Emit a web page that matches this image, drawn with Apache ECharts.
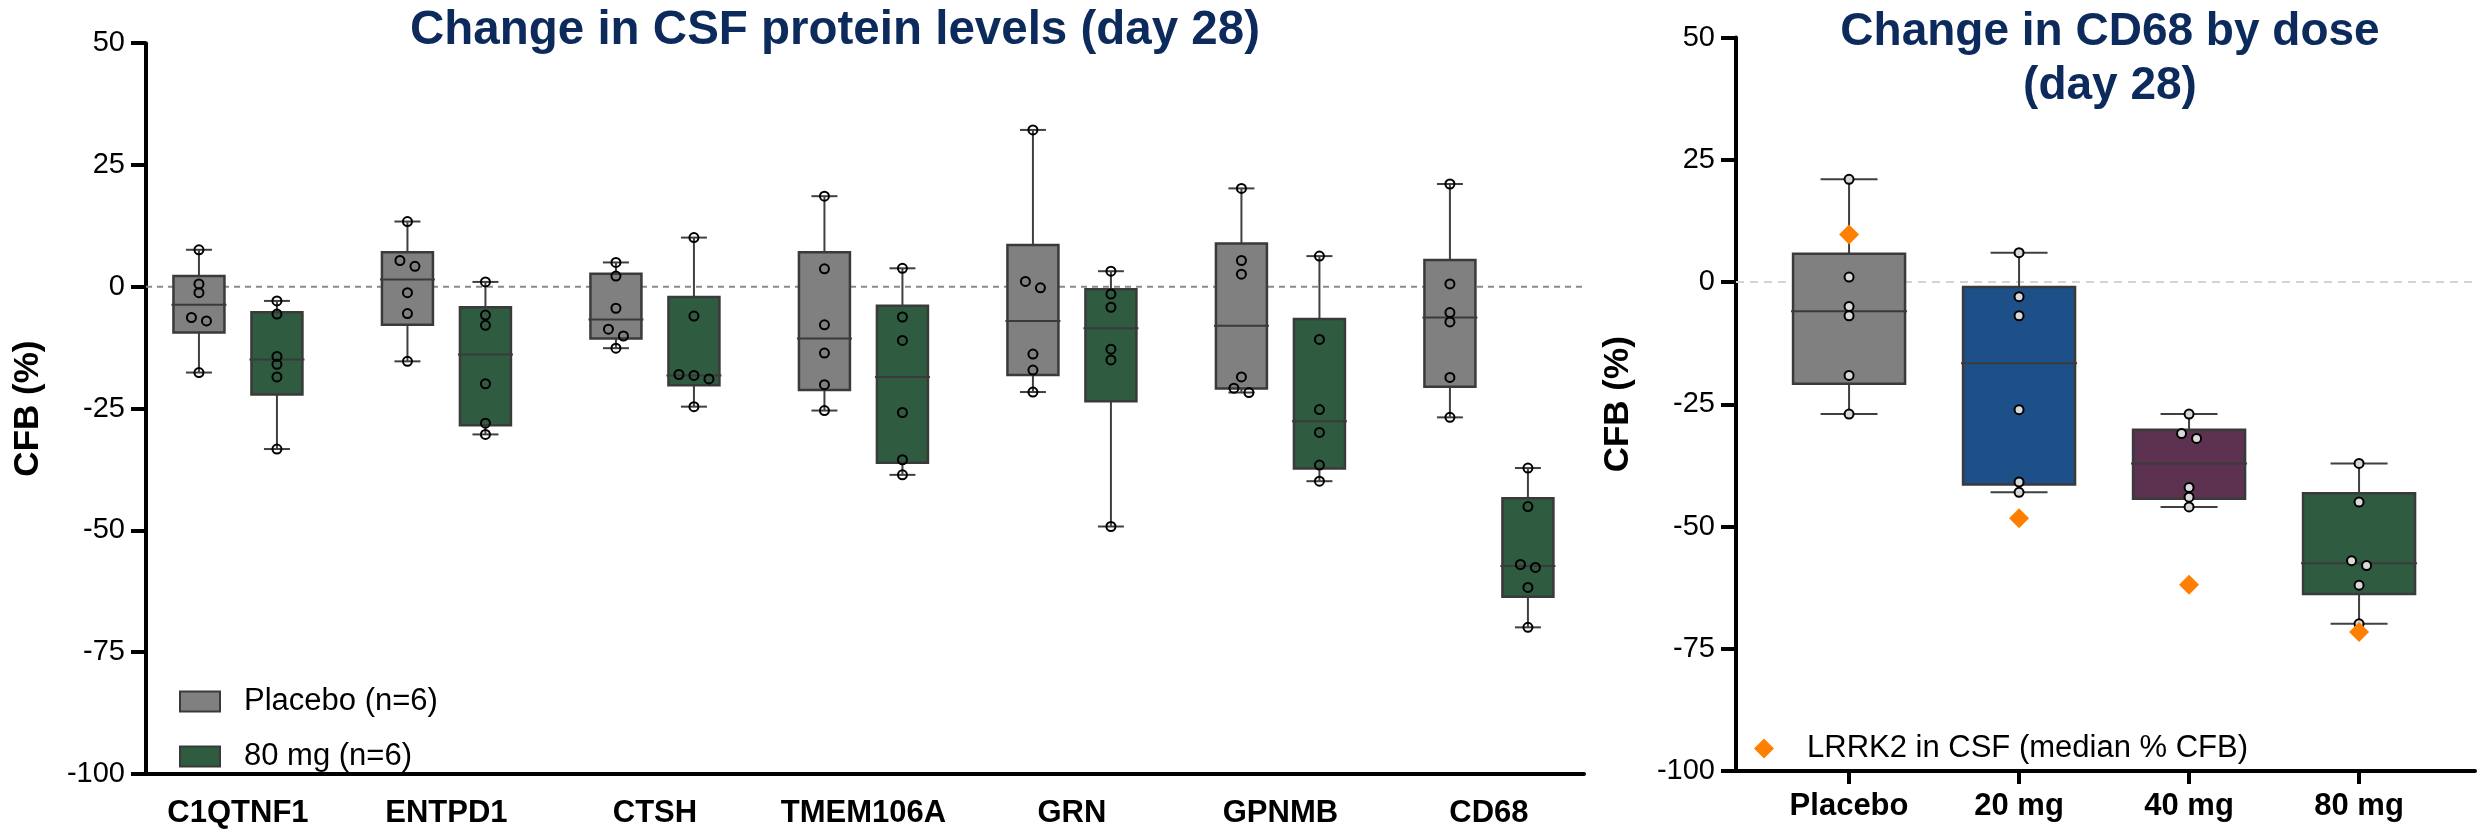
<!DOCTYPE html>
<html>
<head>
<meta charset="utf-8">
<script src="https://cdn.jsdelivr.net/npm/echarts@6/dist/echarts.min.js"></script>
<style>html,body{margin:0;padding:0;background:#fff}#c{width:2483px;height:829px}</style>
</head>
<body>
<div id="c"></div>
<script>
// ---------- DATA ----------
const proteins = ['C1QTNF1', 'ENTPD1', 'CTSH', 'TMEM106A', 'GRN', 'GPNMB', 'CD68'];
// box stats: [min, Q1, median, Q3, max]
const placeboBox = [
  [-17.6, -9.4, -3.7, 2.2, 7.6],
  [-15.3, -7.8, 1.5, 7.1, 13.4],
  [-12.6, -10.6, -6.7, 2.7, 5.0],
  [-25.4, -21.2, -10.6, 7.1, 18.6],
  [-21.6, -18.1, -7.0, 8.6, 32.2],
  [-21.7, -20.9, -8.0, 8.9, 20.2],
  [-26.8, -20.5, -6.3, 5.5, 21.1]
];
const dose80Box = [
  [-33.3, -22.1, -14.9, -5.2, -2.9],
  [-30.3, -28.4, -13.9, -4.2, 1.0],
  [-24.6, -20.2, -18.2, -2.1, 10.1],
  [-38.6, -36.1, -18.5, -3.9, 3.8],
  [-49.2, -23.5, -8.5, -0.5, 3.2],
  [-39.9, -37.3, -27.6, -6.6, 6.3],
  [-69.9, -63.6, -57.3, -43.4, -37.2]
];
const placeboPts = [
  [7.6, 0.6, -1.2, -6.3, -7.0, -17.6],
  [13.4, 5.4, 4.2, -1.2, -5.5, -15.3],
  [5.0, 2.2, -4.4, -8.7, -10.1, -12.6],
  [18.6, 3.7, -7.8, -13.6, -20.1, -25.4],
  [32.2, 1.1, -0.2, -13.8, -17.1, -21.6],
  [20.2, 5.4, 2.6, -18.5, -20.8, -21.7],
  [21.1, 0.6, -5.3, -7.2, -18.6, -26.8]
];
const dose80Pts = [
  [-2.9, -5.6, -14.3, -15.9, -18.5, -33.3],
  [1.0, -5.8, -7.9, -19.9, -28.0, -30.3],
  [10.1, -6.0, -18.0, -18.2, -18.9, -24.6],
  [3.8, -6.2, -11.0, -25.8, -35.5, -38.6],
  [3.2, -1.5, -4.2, -12.8, -15.0, -49.2],
  [6.3, -10.8, -25.2, -29.9, -36.6, -39.9],
  [-37.2, -45.1, -57.0, -57.6, -61.7, -69.9]
];
const doses = ['Placebo', '20 mg', '40 mg', '80 mg'];
const doseBox = [
  [-27.0, -20.8, -6.0, 5.8, 21.0],
  [-43.0, -41.4, -16.6, -1.0, 6.0],
  [-46.0, -44.3, -37.1, -30.2, -27.0],
  [-69.9, -63.8, -57.5, -43.2, -37.1]
];
const dosePts = [
  [21.0, 1.0, -5.0, -6.9, -19.1, -27.0],
  [6.0, -3.0, -6.9, -26.1, -40.9, -43.0],
  [-27.0, -31.0, -32.0, -42.0, -44.0, -46.0],
  [-37.1, -45.0, -57.0, -58.0, -62.0, -69.9]
];
const lrrk2Median = [9.7, -48.3, -61.9, -71.6];
const yMin = -100, yMax = 50, yStep = 25;
const refLine = 0;

// ---------- STYLE / LAYOUT ----------
const FONT = "'Liberation Sans', Arial, sans-serif";
const NAVY = '#0c2a5b';
const GRAY = '#808080';
const GREEN = '#2f5b41';
const EDGE = '#3a3a3a';
const ORANGE = '#ff8000';
const doseColors = ['#808080', '#1d5089', '#5d3251', '#2f5b41'];
const LX = {min: -0.441, max: 6.456};
const RX = {min: -0.665, max: 3.682};

function jitter(vals, thr, step) {
  const idx = vals.map((v, i) => i).sort((a, b) => vals[b] - vals[a]);
  const off = new Array(vals.length).fill(0);
  let g = [idx[0]];
  const flush = () => g.forEach((k, j) => { off[k] = (j - (g.length - 1) / 2) * step; });
  for (let t = 1; t < idx.length; t++) {
    if (vals[idx[t - 1]] - vals[idx[t]] < thr) g.push(idx[t]);
    else { flush(); g = [idx[t]]; }
  }
  flush();
  return off;
}

function boxRender(offsetPx, boxW, capW, colorFn) {
  return function (params, api) {
    const x = api.value(0);
    const yMn = api.coord([x, api.value(1)])[1];
    const yQ1 = api.coord([x, api.value(2)])[1];
    const yMd = api.coord([x, api.value(3)])[1];
    const yQ3 = api.coord([x, api.value(4)])[1];
    const yMx = api.coord([x, api.value(5)])[1];
    const cx = api.coord([x, 0])[0] + offsetPx;
    const wStyle = {stroke: '#404040', lineWidth: 2};
    return {
      type: 'group',
      children: [
        {type: 'line', shape: {x1: cx, y1: yMx, x2: cx, y2: yQ3}, style: wStyle},
        {type: 'line', shape: {x1: cx, y1: yQ1, x2: cx, y2: yMn}, style: wStyle},
        {type: 'line', shape: {x1: cx - capW / 2, y1: yMx, x2: cx + capW / 2, y2: yMx}, style: wStyle},
        {type: 'line', shape: {x1: cx - capW / 2, y1: yMn, x2: cx + capW / 2, y2: yMn}, style: wStyle},
        {type: 'rect', shape: {x: cx - boxW / 2, y: yQ3, width: boxW, height: yQ1 - yQ3},
          style: {fill: colorFn(params.dataIndex), stroke: EDGE, lineWidth: 2.5}},
        {type: 'line', shape: {x1: cx - boxW / 2 - 2, y1: yMd, x2: cx + boxW / 2 + 2, y2: yMd},
          style: {stroke: EDGE, lineWidth: 2}}
      ]
    };
  };
}

function ptsData(groups, groupOffset, step) {
  const out = [];
  groups.forEach((vals, i) => {
    const off = jitter(vals, 1.5, step);
    vals.forEach((v, k) => out.push({value: [i, v], symbolOffset: [groupOffset + off[k], 0]}));
  });
  return out;
}

const chart = echarts.init(document.getElementById('c'), null, {renderer: 'canvas'});

const yAxisBase = (grid) => ({
  gridIndex: grid, type: 'value', min: yMin, max: yMax, interval: yStep,
  axisLine: {show: true, onZero: false, lineStyle: {color: '#000', width: 4}},
  axisTick: {show: true, length: 15, lineStyle: {color: '#000', width: 4}},
  axisLabel: {color: '#000', fontSize: 29, fontFamily: FONT, margin: 21},
  splitLine: {show: false},
  name: 'CFB (%)', nameLocation: 'middle', nameGap: 100,
  nameTextStyle: {color: '#000', fontSize: 35, fontWeight: 'bold', fontFamily: FONT}
});

const legendText = (pad) => ({
  color: '#000', fontSize: 31, fontFamily: FONT,
  rich: {t: {color: '#000', fontSize: 31, fontFamily: FONT, padding: [0, 0, 0, pad]}}
});

const option = {
  animation: false,
  backgroundColor: '#fff',
  textStyle: {fontFamily: FONT},
  grid: [
    {left: 146, top: 43.2, width: 1438, height: 734},
    {left: 1736, top: 37.5, width: 739, height: 733.5}
  ],
  xAxis: [
    {gridIndex: 0, type: 'value', min: LX.min, max: LX.max,
      axisLine: {show: true, onZero: false, lineStyle: {color: '#000', width: 4}},
      axisTick: {show: false},
      splitLine: {show: false},
      axisLabel: {customValues: proteins.map((p, i) => i), formatter: v => proteins[Math.round(v)],
        color: '#000', fontSize: 31, fontWeight: 'bold', fontFamily: FONT, margin: 24}
    },
    {gridIndex: 1, type: 'value', min: RX.min, max: RX.max,
      axisLine: {show: true, onZero: false, lineStyle: {color: '#000', width: 4}},
      axisTick: {show: true, customValues: doses.map((d, i) => i), length: 13, lineStyle: {color: '#000', width: 4}},
      splitLine: {show: false},
      axisLabel: {customValues: doses.map((d, i) => i), formatter: v => doses[Math.round(v)],
        color: '#000', fontSize: 31, fontWeight: 'bold', fontFamily: FONT, margin: 20}
    }
  ],
  yAxis: [yAxisBase(0), yAxisBase(1)],
  legend: [
    {
      data: [
        {name: 'Placebo (n=6)', icon: 'rect', itemStyle: {color: GRAY, borderColor: EDGE, borderWidth: 2}},
        {name: '80 mg (n=6)', icon: 'rect', itemStyle: {color: GREEN, borderColor: EDGE, borderWidth: 2}}
      ],
      orient: 'vertical', left: 179, top: 686, padding: 0,
      itemWidth: 40, itemHeight: 20, itemGap: 24, selectedMode: false,
      formatter: n => '{t|' + n + '}',
      textStyle: legendText(19)
    },
    {
      data: [{name: 'LRRK2 in CSF (median % CFB)', icon: 'diamond', itemStyle: {color: ORANGE, opacity: 1}}],
      orient: 'vertical', left: 1754, top: 733, padding: 0,
      itemWidth: 20, itemHeight: 20, selectedMode: false,
      formatter: n => '{t|' + n + '}',
      textStyle: legendText(28)
    }
  ],
  graphic: [
    {type: 'text', x: 835, y: 31, silent: true,
      style: {text: 'Change in CSF protein levels (day 28)', fontSize: 47.5, fontWeight: 'bold', fontFamily: FONT,
        fill: NAVY, align: 'center', verticalAlign: 'middle'}},
    {type: 'text', x: 2110, y: 59, silent: true,
      style: {text: 'Change in CD68 by dose\n(day 28)', fontSize: 46, fontWeight: 'bold', fontFamily: FONT,
        fill: NAVY, align: 'center', verticalAlign: 'middle', lineHeight: 54}}
  ],
  series: [
    {type: 'line', name: 'zeroL', xAxisIndex: 0, yAxisIndex: 0, z: 1, silent: true, symbol: 'none',
      data: [[LX.min, refLine], [LX.max, refLine]],
      lineStyle: {color: '#8a8a8a', width: 2, type: [6, 5]}},
    {type: 'line', name: 'zeroR', xAxisIndex: 1, yAxisIndex: 1, z: 1, silent: true, symbol: 'none',
      data: [[RX.min, refLine], [RX.max, refLine]],
      lineStyle: {color: '#d3d3d3', width: 2, type: [8, 6]}},
    {type: 'custom', name: 'Placebo (n=6)', xAxisIndex: 0, yAxisIndex: 0, z: 2,
      itemStyle: {color: GRAY},
      encode: {x: 0, y: [1, 2, 3, 4, 5]},
      data: placeboBox.map((b, i) => [i].concat(b)),
      renderItem: boxRender(-39, 51, 26, () => GRAY)},
    {type: 'custom', name: '80 mg (n=6)', xAxisIndex: 0, yAxisIndex: 0, z: 2,
      itemStyle: {color: GREEN},
      encode: {x: 0, y: [1, 2, 3, 4, 5]},
      data: dose80Box.map((b, i) => [i].concat(b)),
      renderItem: boxRender(39, 51, 26, () => GREEN)},
    {type: 'scatter', name: 'placeboPts', xAxisIndex: 0, yAxisIndex: 0, z: 3, silent: true,
      symbol: 'circle', symbolSize: 9,
      itemStyle: {color: 'rgba(0,0,0,0)', borderColor: '#000', borderWidth: 2, opacity: 1},
      data: ptsData(placeboPts, -39, 15)},
    {type: 'scatter', name: 'dose80Pts', xAxisIndex: 0, yAxisIndex: 0, z: 3, silent: true,
      symbol: 'circle', symbolSize: 9,
      itemStyle: {color: 'rgba(0,0,0,0)', borderColor: '#000', borderWidth: 2, opacity: 1},
      data: ptsData(dose80Pts, 39, 15)},
    {type: 'custom', name: 'doseBoxes', xAxisIndex: 1, yAxisIndex: 1, z: 2,
      encode: {x: 0, y: [1, 2, 3, 4, 5]},
      data: doseBox.map((b, i) => [i].concat(b)),
      renderItem: boxRender(0, 112, 57, i => doseColors[i])},
    {type: 'scatter', name: 'dosePts', xAxisIndex: 1, yAxisIndex: 1, z: 3, silent: true,
      symbol: 'circle', symbolSize: 9,
      itemStyle: {color: '#d9d9d9', borderColor: '#000', borderWidth: 2, opacity: 1},
      data: ptsData(dosePts, 0, 15)},
    {type: 'scatter', name: 'LRRK2 in CSF (median % CFB)', xAxisIndex: 1, yAxisIndex: 1, z: 4, silent: true,
      symbol: 'diamond', symbolSize: 20,
      itemStyle: {color: ORANGE, opacity: 1},
      data: lrrk2Median.map((v, i) => [i, v])}
  ]
};
chart.setOption(option);
</script>
</body>
</html>
